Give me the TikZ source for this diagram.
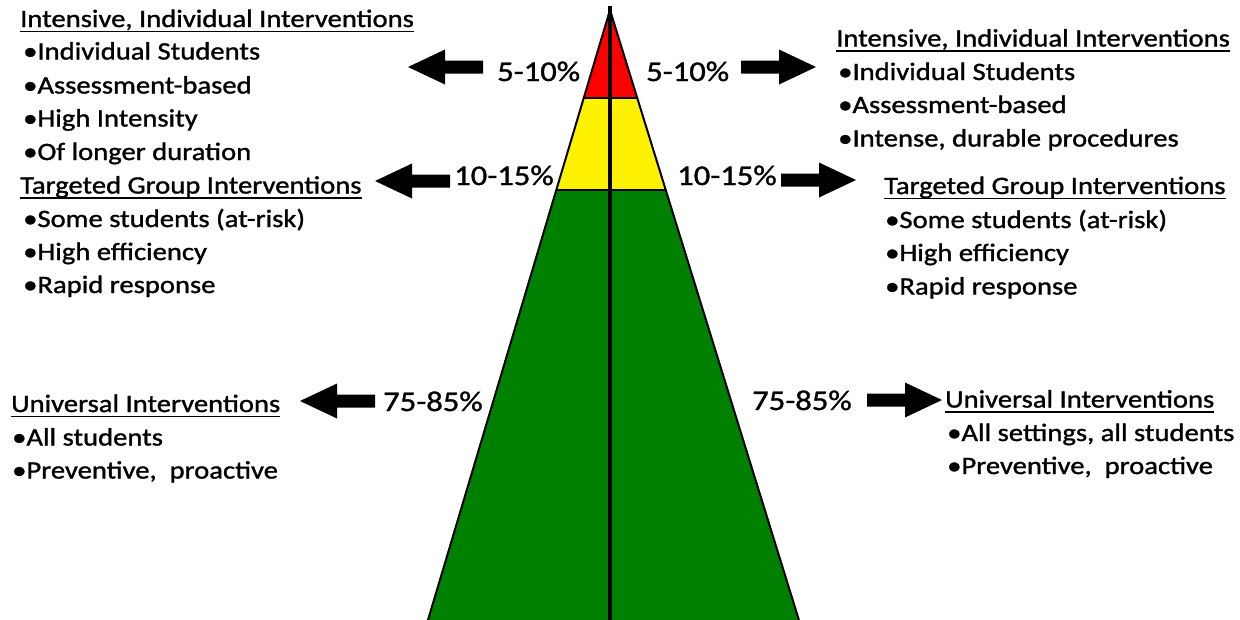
\documentclass[tikz,border=0pt]{standalone}
\usepackage{fontspec}
\setmainfont{Carlito}[FakeStretch=1.145, FakeBold=1.2]
\usetikzlibrary{calc}
\begin{document}
\begin{tikzpicture}[x=1pt,y=-1pt,
  txt/.style={anchor=base west, inner sep=0pt, font=\fontsize{25}{30}\selectfont},
  pct/.style={anchor=base west, inner sep=0pt, font=\fontsize{28.5}{30}\selectfont},
  uline/.style={line width=1.4pt},
  edge/.style={line width=2pt, line join=miter},
  blockarrow/.pic={\fill[black] (0,-6.5) -- (38,-6.5) -- (38,-17.5) -- (75,0)
                   -- (38,17.5) -- (38,6.5) -- (0,6.5) -- cycle;},
  ]
\useasboundingbox (0,0) rectangle (1240,619);
\fill[white] (0,0) rectangle (1240,619);

% pyramid corners and band boundaries
\coordinate (apex) at (610,10);
\coordinate (bl) at (425,630);
\coordinate (br) at (802,630);
\coordinate (r1l) at ($(apex)!0.1419!(bl)$);
\coordinate (r1r) at ($(apex)!0.1419!(br)$);
\coordinate (r2l) at ($(apex)!0.2903!(bl)$);
\coordinate (r2r) at ($(apex)!0.2903!(br)$);

\fill[red] (apex) -- (r1r) -- (r1l) -- cycle;
\fill[yellow] (r1l) -- (r1r) -- (r2r) -- (r2l) -- cycle;
\fill[green!50!black] (r2l) -- (r2r) -- (br) -- (bl) -- cycle;
\draw[edge] (bl) -- (apex) -- (br);
\draw[edge] (r1l) -- (r1r);
\draw[edge] (r2l) -- (r2r);
\draw[line width=4pt] (610,6) -- (610,630);

% percentage labels
\node[pct] (p1l) at (497,81) {5-10\%};
\node[pct] (p1r) at (646,81) {5-10\%};
\node[pct] (p2l) at (454,185) {10-15\%};
\node[pct] (p2r) at (677,185) {10-15\%};
\node[pct] (p3l) at (383,411) {75-85\%};
\node[pct] (p3r) at (752,410) {75-85\%};

% block arrows
\pic[xscale=-1] (a1l) at (483,67) {blockarrow};
\pic (a1r) at (741,67) {blockarrow};
\pic[xscale=-1] (a2l) at (450,181) {blockarrow};
\pic (a2r) at (781,180) {blockarrow};
\pic[xscale=-1] (a3l) at (375,401) {blockarrow};
\pic (a3r) at (867,400) {blockarrow};

% left column
\node[txt] (hl1) at (20,27) {Intensive, Individual Interventions};
\node[txt] (l11) at (23,59.5) {•Individual Students};
\node[txt] (l12) at (23,93.5) {•Assessment-based};
\node[txt] (l13) at (23,126.5) {•High Intensity};
\node[txt] (l14) at (23,160) {•Of longer duration};
\node[txt] (hl2) at (20,193.5) {Targeted Group Interventions};
\node[txt] (l21) at (23,227) {•Some students (at-risk)};
\node[txt] (l22) at (23,260) {•High efficiency};
\node[txt] (l23) at (23,293) {•Rapid response};
\node[txt] (hl3) at (11,412) {Universal Interventions};
\node[txt] (l31) at (12,445.5) {•All students};
\node[txt] (l32) at (12,478.5) {•Preventive,\ \ proactive};

% right column
\node[txt] (hr1) at (836,46.5) {Intensive, Individual Interventions};
\node[txt] (r11) at (838,80) {•Individual Students};
\node[txt] (r12) at (838,113) {•Assessment-based};
\node[txt] (r13) at (838,146.5) {•Intense, durable procedures};
\node[txt] (hr2) at (884,194) {Targeted Group Interventions};
\node[txt] (r21) at (885,228) {•Some students (at-risk)};
\node[txt] (r22) at (885,261) {•High efficiency};
\node[txt] (r23) at (885,294.5) {•Rapid response};
\node[txt] (hr3) at (945,407.5) {Universal Interventions};
\node[txt] (r31) at (947,441) {•All settings, all students};
\node[txt] (r32) at (947,474) {•Preventive,\ \ proactive};

% heading underlines
\foreach \h in {hl1,hl2,hl3,hr1,hr2,hr3}
  \draw[uline] ([yshift=-4.5pt]\h.base west) -- ([yshift=-4.5pt]\h.base east);
\end{tikzpicture}
\end{document}
